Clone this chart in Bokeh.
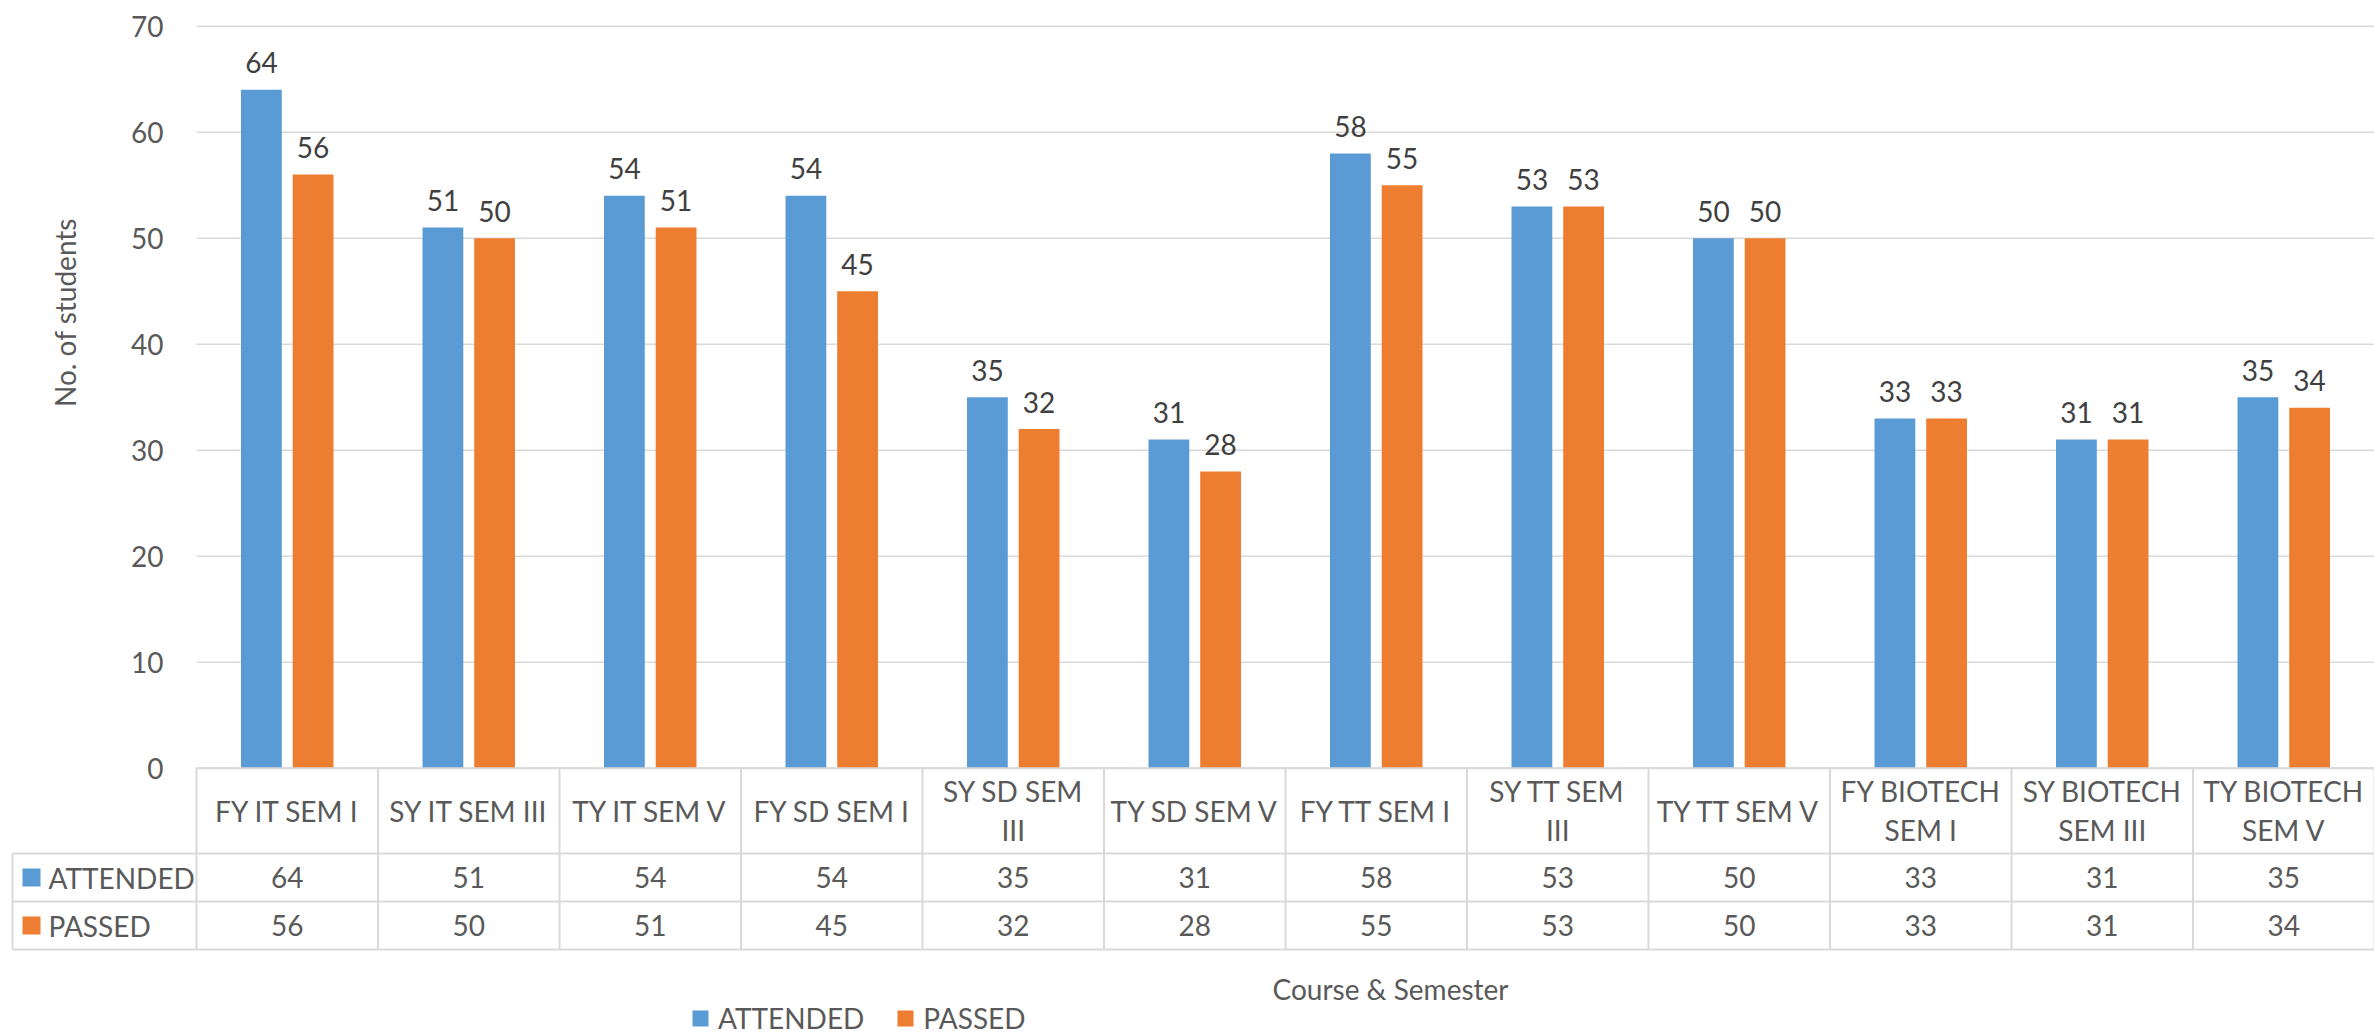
import numpy as np
from bokeh.plotting import figure
from bokeh.models import ColumnDataSource, Range1d, FixedTicker, LinearAxis, Legend, LegendItem
from bokeh.embed import file_html
from bokeh.resources import INLINE
from bokeh.core.properties import value

# ---------------- data ----------------
categories = ["FY IT SEM I", "SY IT SEM III", "TY IT SEM V", "FY SD SEM I",
              "SY SD SEM III", "TY SD SEM V", "FY TT SEM I", "SY TT SEM III",
              "TY TT SEM V", "FY BIOTECH SEM I", "SY BIOTECH SEM III", "TY BIOTECH SEM V"]
header_labels = ["FY IT SEM I", "SY IT SEM III", "TY IT SEM V", "FY SD SEM I",
                 "SY SD SEM\nIII", "TY SD SEM V", "FY TT SEM I", "SY TT SEM\nIII",
                 "TY TT SEM V", "FY BIOTECH\nSEM I", "SY BIOTECH\nSEM III", "TY BIOTECH\nSEM V"]
attended = [64, 51, 54, 54, 35, 31, 58, 53, 50, 33, 31, 35]
passed = [56, 50, 51, 45, 32, 28, 55, 53, 50, 33, 31, 34]
series_names = ["ATTENDED", "PASSED"]
y_ticks = [0, 10, 20, 30, 40, 50, 60, 70]
y_title = "No. of students"
x_title = "Course & Semester"

# ---------------- style / layout ----------------
FONT = "Lato"
TXT = "#595959"
LBL = "#404040"
GRID = "#D9D9D9"
COLORS = ["#5B9BD5", "#ED7D31"]
FS = "28px"

W, H = 2374, 1034
PAGE_L, PAGE_T = 0, 0                 # bokeh's page template has no body margin
AREA_L = 196                          # page x where plot area / table cells start
n = len(categories)
CELL = (PAGE_L + W - AREA_L) / n      # px per category
Y0 = 767.7                            # page y of value 0
PXU = 10.6                            # px per value unit


def xd(page_x):
    return (page_x - AREA_L) / CELL


def yd(page_y):
    return (Y0 - page_y) / PXU


xs = np.arange(n) + 0.5
DODGE = 26 / 182.5
BW = 41 / 182.5

p = figure(width=W, height=H,
           x_range=Range1d(xd(PAGE_L), xd(PAGE_L + W)),
           y_range=Range1d(yd(PAGE_T + H), yd(PAGE_T)),
           output_backend="svg", toolbar_location=None,
           x_axis_location=None, y_axis_location=None,
           min_border=0, min_border_left=0, min_border_right=0,
           min_border_top=0, min_border_bottom=0)
p.outline_line_color = None
p.grid.visible = False

# y axis (drawn at the left edge of the plot area)
yaxis = LinearAxis(fixed_location=0, ticker=FixedTicker(ticks=y_ticks))
yaxis.axis_line_color = None
yaxis.major_tick_line_color = None
yaxis.minor_tick_line_color = None
yaxis.major_tick_out = 0
yaxis.major_tick_in = 0
yaxis.major_label_standoff = 33
yaxis.major_label_text_font = FONT
yaxis.major_label_text_font_size = FS
yaxis.major_label_text_color = TXT
p.add_layout(yaxis, "left")

# gridlines over the plot area
p.segment(x0=[0] * len(y_ticks), x1=[n] * len(y_ticks), y0=y_ticks, y1=y_ticks,
          line_color=GRID, line_width=1.5)

# bars and data labels
for k, vals in enumerate([attended, passed]):
    src = ColumnDataSource(dict(x=xs + (2 * k - 1) * DODGE, top=vals,
                                lab=[str(v) for v in vals]))
    p.vbar(x="x", top="top", bottom=0, width=BW, source=src, fill_color=COLORS[k],
           line_color=None)
    p.text(x="x", y="top", text="lab", source=src, text_align="center",
           text_baseline="alphabetic", y_offset=-27, text_font=value(FONT),
           text_font_size=FS, text_color=LBL)

# y title
p.text(x=[xd(64)], y=[yd(312)], text=[y_title], angle=np.pi / 2, text_align="center",
       text_baseline="middle", text_font=value(FONT), text_font_size=FS, text_color=TXT)

# ---------------- data table ----------------
row_lines = [yd(853), yd(901), yd(949)]
leg_left = xd(12)
x0s, y0s, x1s, y1s = [0], [0], [n], [0]
for yl in row_lines:
    x0s.append(leg_left); y0s.append(yl); x1s.append(n); y1s.append(yl)
for i in range(n + 1):
    x0s.append(i); y0s.append(0); x1s.append(i); y1s.append(row_lines[-1])
x0s.append(leg_left); y0s.append(row_lines[0]); x1s.append(leg_left); y1s.append(row_lines[-1])
p.segment(x0=x0s, y0=y0s, x1=x1s, y1=y1s, line_color=GRID, line_width=2)

hx, hy, ht = [], [], []
for i, lab in enumerate(header_labels):
    lines = lab.split("\n")
    for k, ln in enumerate(lines):
        hx.append(xs[i]); hy.append(yd(810 + (k - (len(lines) - 1) / 2) * 39)); ht.append(ln)
p.text(x=hx, y=hy, text=ht, text_align="center", text_baseline="middle",
       text_font=value(FONT), text_font_size=FS, text_color=TXT)

items = []
row_centers = [yd(877), yd(925)]
for k, (name, vals) in enumerate(zip(series_names, [attended, passed])):
    yc = row_centers[k]
    r = p.rect(x=[xd(31)], y=[yc], width=18, height=18, width_units="screen",
               height_units="screen", fill_color=COLORS[k], line_color=None)
    items.append(LegendItem(label=name, renderers=[r]))
    p.text(x=[xd(48)], y=[yc], text=[name], text_align="left", text_baseline="middle",
           text_font=value(FONT), text_font_size=FS, text_color=TXT)
    p.text(x=list(xs), y=[yc] * n, text=[str(v) for v in vals], text_align="center",
           text_baseline="middle", text_font=value(FONT), text_font_size=FS, text_color=TXT)

# x title
p.text(x=[xd(1390)], y=[yd(988)], text=[x_title], text_align="center",
       text_baseline="middle", text_font=value(FONT), text_font_size=FS, text_color=TXT)

legend = Legend(items=items, orientation="horizontal", location=(690 - PAGE_L, -1),
                glyph_width=20, glyph_height=20, label_standoff=8, spacing=31,
                padding=0, margin=0, border_line_color=None, background_fill_alpha=0,
                label_text_font=FONT, label_text_font_size=FS, label_text_color=TXT)
p.add_layout(legend, "center")

open("out.html", "w").write(file_html(p, INLINE))
